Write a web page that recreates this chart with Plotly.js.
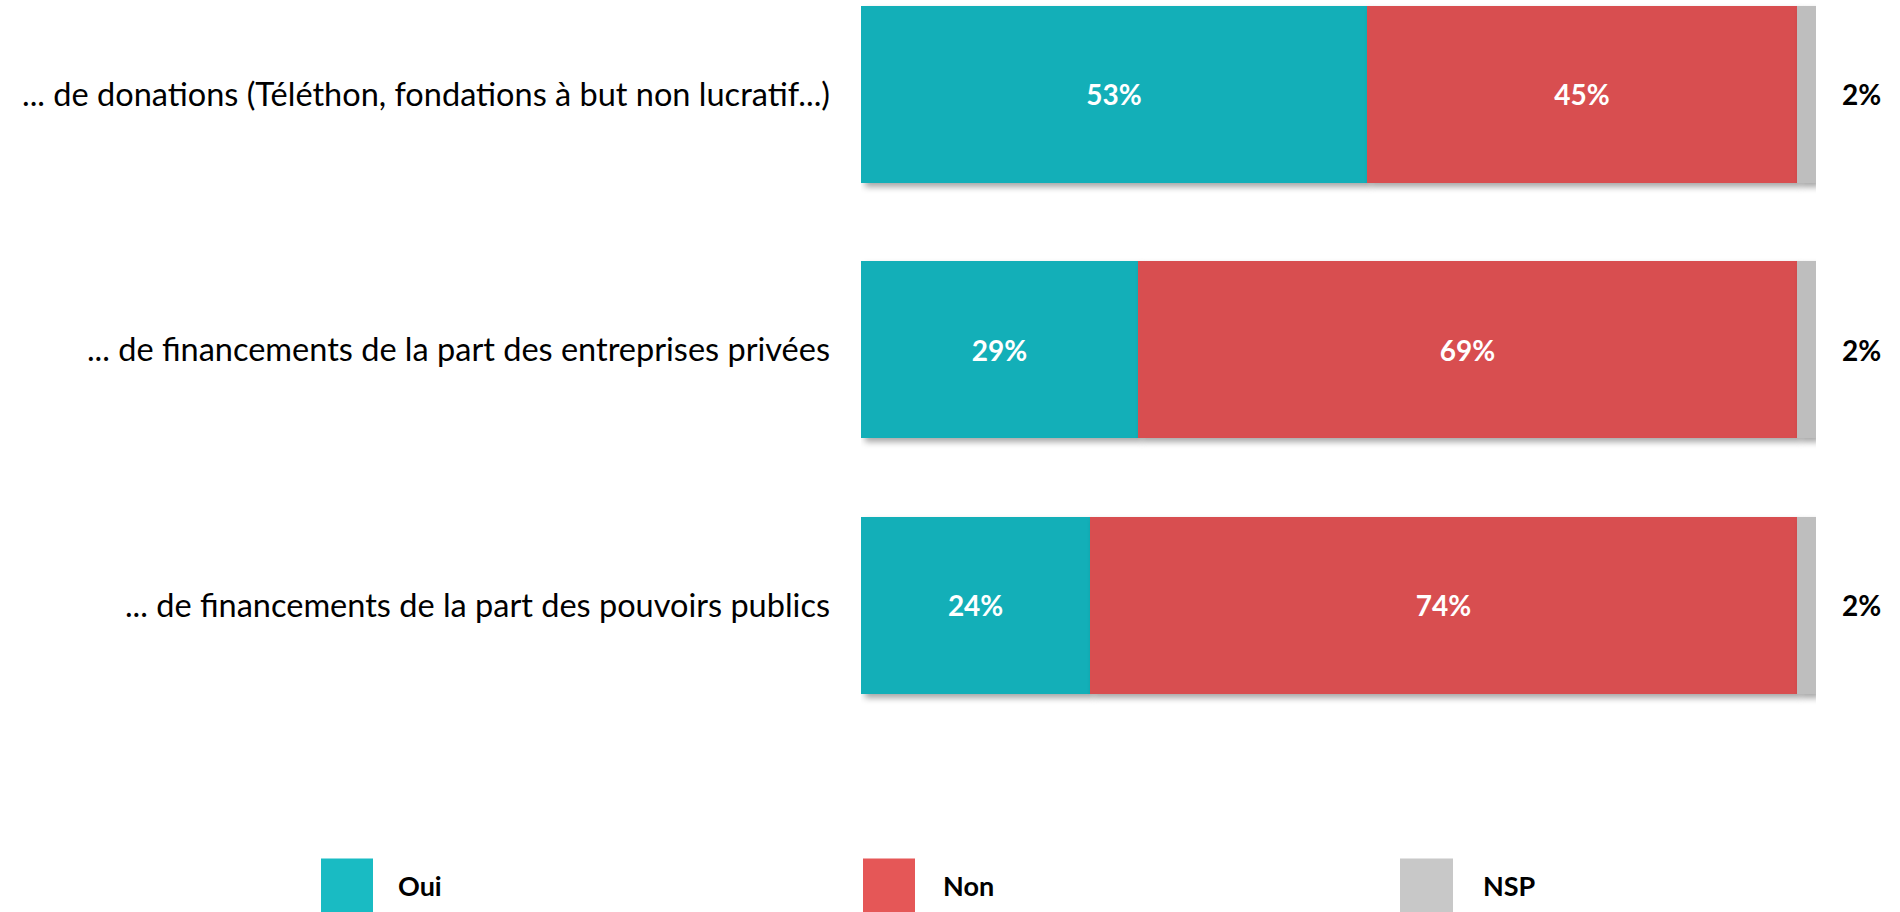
<!DOCTYPE html>
<html><head><meta charset="utf-8">
<script src="https://cdn.plot.ly/plotly-3.0.1.min.js"></script>
<style>
html,body{margin:0;padding:0;background:#fff;}
#chart{width:1900px;height:912px;}
.barlayer .point path{filter:drop-shadow(4px 4px 3px rgba(0,0,0,0.35));}
</style></head>
<body><div id="chart"></div>
<script>
// Data
const categories = [
  "... de financements de la part des pouvoirs publics",
  "... de financements de la part des entreprises privées",
  "... de donations (Téléthon, fondations à but non lucratif...)"
];
const oui = [24, 29, 53];
const non = [74, 69, 45];
const nsp = [2, 2, 2];
const seriesNames = ["Oui", "Non", "NSP"];

const barColors = ["#13AFB8", "#D84E50", "#BEBEBE"];
const legendColors = ["#19BBC3", "#E55757", "#C8C8C8"];
const FONT = "Lato, 'Open Sans', sans-serif";

// pixel geometry helpers (layout only)
const L = 861, R = 1816, T = 0, H = 766.5;
const px2x = p => (p - L) / (R - L);
const px2y = p => (T + H - p) / H;

const series = [oui, non, nsp];
const traces = series.map((vals, i) => ({
  type: "bar",
  orientation: "h",
  name: seriesNames[i],
  y: categories,
  x: vals,
  marker: {color: barColors[i], line: {width: 0}},
  text: i < 2 ? vals.map(v => v + "%") : vals.map(() => ""),
  textposition: i < 2 ? "inside" : "none",
  insidetextanchor: "middle",
  textfont: {family: FONT, size: 28, color: "#ffffff", weight: 700},
  hoverinfo: "x+name",
  showlegend: false
}));

const annotations = categories.map((c, k) => ({
  x: oui[k] + non[k] + nsp[k],
  y: c,
  xref: "x", yref: "y",
  text: "<b>" + nsp[k] + "%</b>",
  showarrow: false,
  xanchor: "left",
  xshift: 24,
  font: {family: FONT, size: 28, color: "#000000"}
}));

const legendSquares = [[321, 373], [863, 915], [1400, 1453]];
const legendText = [396, 941, 1481];
const shapes = [];
seriesNames.forEach((n, i) => {
  shapes.push({
    type: "rect", xref: "paper", yref: "paper",
    x0: px2x(legendSquares[i][0]), x1: px2x(legendSquares[i][1]),
    y0: px2y(859), y1: px2y(920),
    fillcolor: legendColors[i], line: {width: 0}, layer: "above"
  });
  annotations.push({
    x: px2x(legendText[i]), y: px2y(886), xref: "paper", yref: "paper",
    text: "<b>" + n + "</b>", showarrow: false, xanchor: "left", yanchor: "middle",
    font: {family: FONT, size: 27, color: "#000000"}
  });
});

const layout = {
  width: 1900, height: 912,
  margin: {l: L, r: 1900 - R, t: T, b: 912 - T - H, pad: 0},
  barmode: "stack",
  bargap: 0.307,
  paper_bgcolor: "#ffffff",
  plot_bgcolor: "#ffffff",
  showlegend: false,
  xaxis: {range: [0, 100], visible: false, fixedrange: true},
  yaxis: {
    type: "category",
    range: [-0.63, 2.37],
    autorange: false,
    showgrid: false, zeroline: false, showline: false,
    ticks: "",
    ticklabelstandoff: 30,
    tickfont: {family: FONT, size: 32.5, color: "#000000"},
    fixedrange: true
  },
  annotations: annotations,
  shapes: shapes,
  font: {family: FONT}
};

Plotly.newPlot("chart", traces, layout, {displayModeBar: false, staticPlot: true});
</script></body></html>
